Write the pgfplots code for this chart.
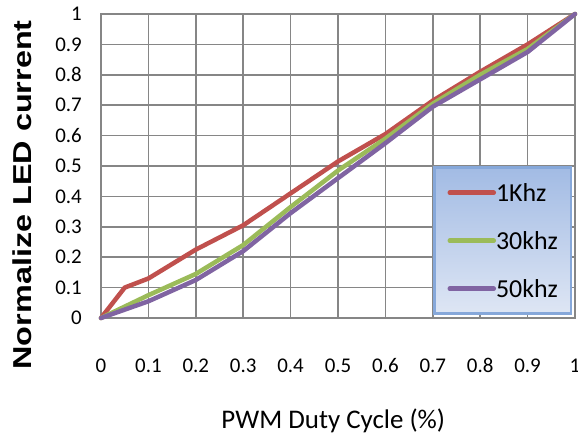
\documentclass[border=0pt]{standalone}
\usepackage{pgfplots}
\pgfplotsset{compat=1.18}
\usepackage{fontspec}
\setmainfont{Carlito}
\newfontfamily\arialfont{Liberation Sans}
\definecolor{cred}{HTML}{C0504D}
\definecolor{cgreen}{HTML}{9BBB59}
\definecolor{cpurple}{HTML}{8064A2}
\definecolor{gridgray}{HTML}{868686}
\definecolor{legtop}{HTML}{A2BBE4}
\definecolor{legbot}{HTML}{DEE6F4}
\definecolor{legborder}{HTML}{86A8DA}
\begin{document}
\begin{tikzpicture}
\begin{axis}[
  at={(0,0)}, anchor=south west,
  scale only axis, width=474bp, height=304bp,
  xmin=0, xmax=1, ymin=0, ymax=1,
  xtick={0,0.1,0.2,0.3,0.4,0.5,0.6,0.7,0.8,0.9,1},
  ytick={0,0.1,0.2,0.3,0.4,0.5,0.6,0.7,0.8,0.9,1},
  /pgf/number format/.cd, fixed, precision=1, assume math mode=true, /pgfplots/.cd,
  grid=major,
  major grid style={gridgray, line width=1.5bp},
  axis line style={gridgray, line width=1.5bp},
  major tick length=0pt,
  tick label style={font=\fontsize{21}{21}\selectfont, inner sep=0pt},
  xticklabel style={anchor=base, yshift=-54bp},
  yticklabel style={anchor=east, xshift=-19bp},
  clip=false,
  xlabel={PWM Duty Cycle (\%)},
  xlabel style={at={(axis description cs:0.49,-0.339)}, anchor=center, font=\fontsize{27}{27}\selectfont},
  ylabel={\scalebox{1.25}[1]{\arialfont\bfseries\fontsize{26}{26}\selectfont Normalize LED current}},
  ylabel style={at={(axis description cs:-0.167,0.405)}, anchor=center},
  legend cell align=left,
  legend image code/.code={\draw[#1] (0bp,0bp) -- (44bp,0bp);},
  legend style={at={(axis description cs:0.994,0.01)}, anchor=south east,
    draw=legborder, line width=2.5bp, top color=legtop, bottom color=legbot,
    inner xsep=13bp, inner ysep=16bp, row sep=30bp,
    font=\fontsize{26}{26}\selectfont,
    nodes={inner sep=0pt, text height=18bp, text depth=0bp},
    /tikz/every even column/.append style={column sep=4bp}},
  every axis plot/.append style={line width=4.5bp, line join=round, line cap=round},
]
\addplot[cred] coordinates {(0,0) (0.05,0.1) (0.1,0.13) (0.2,0.225) (0.3,0.305) (0.4,0.41) (0.5,0.515) (0.6,0.605) (0.7,0.715) (0.8,0.81) (0.9,0.9) (1,1)};
\addlegendentry{1Khz}
\addplot[cgreen] coordinates {(0,0) (0.1,0.075) (0.2,0.145) (0.3,0.24) (0.4,0.365) (0.5,0.485) (0.6,0.59) (0.7,0.705) (0.8,0.8) (0.9,0.885) (1,1)};
\addlegendentry{30khz}
\addplot[cpurple] coordinates {(0,0) (0.1,0.055) (0.2,0.125) (0.3,0.22) (0.4,0.345) (0.5,0.46) (0.6,0.575) (0.7,0.695) (0.8,0.785) (0.9,0.875) (1,1)};
\addlegendentry{50khz}
\end{axis}
\pgfresetboundingbox
\path (-101bp,-123bp) rectangle (477bp,318bp);
\end{tikzpicture}
\end{document}
